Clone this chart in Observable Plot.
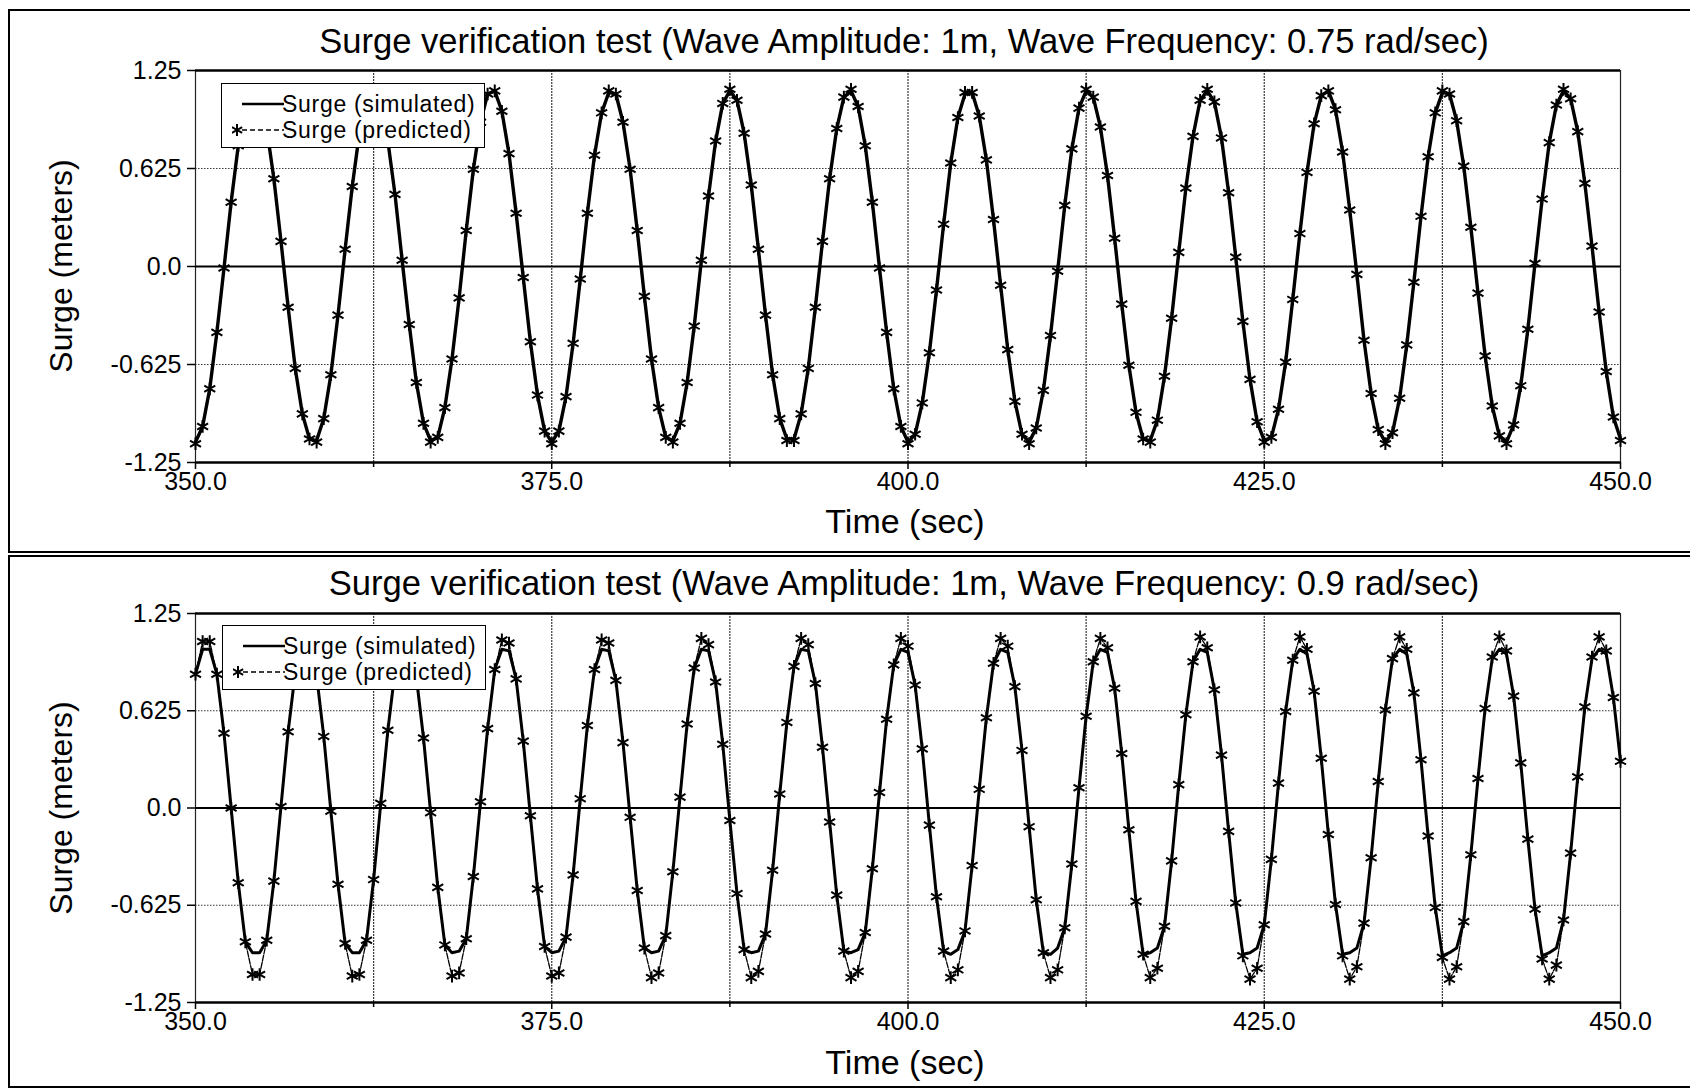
<!DOCTYPE html>
<html>
<head>
<meta charset="utf-8">
<script src="https://cdn.jsdelivr.net/npm/d3@7"></script>
<script src="https://cdn.jsdelivr.net/npm/@observablehq/plot@0.6"></script>
<style>
  html, body { margin: 0; padding: 0; background: #fff; }
  body { width: 1690px; height: 1090px; overflow: hidden; position: relative;
         font-family: Arial, "Liberation Sans", Helvetica, sans-serif; color: #000; }
  .panel { position: absolute; left: 8px; width: 1700px; border: 2px solid #000; box-sizing: border-box; }
  .title { position: absolute; width: 1800px; text-align: center; font-size: 34.6px; line-height: 40px; white-space: nowrap; }
  .xtitle { position: absolute; width: 1800px; text-align: center; font-size: 34px; line-height: 40px; white-space: nowrap; }
  .ytitle { position: absolute; font-size: 32px; line-height: 36px; white-space: nowrap;
            transform: translate(-50%, -50%) rotate(-90deg); }
  .chart { position: absolute; left: 0; }
  .legend { position: absolute; width: 264px; height: 65px; border: 1.5px solid #000; background: #fff;
            box-sizing: border-box; font-size: 23px; }
  .legend .row { position: absolute; left: 0; height: 26px; width: 100%; }
  .legend svg { position: absolute; left: 10px; top: 0; }
  .legend span { position: absolute; left: 60px; top: 0; line-height: 26px; letter-spacing: 0.7px; }
</style>
</head>
<body>
<div class="panel" style="top:9px;height:544px;"></div>
<div class="panel" style="top:555px;height:533px;"></div>
<div id="topChart" class="chart" style="top:40px;"></div>
<div id="bottomChart" class="chart" style="top:583px;"></div>
<script>
// ---- data ----
const times = [
350,350.5,351,351.5,352,352.5,353,353.5,354,354.5,355,355.5,356,356.5,357,357.5,358,358.5,359,359.5,
360,360.5,361,361.5,362,362.5,363,363.5,364,364.5,365,365.5,366,366.5,367,367.5,368,368.5,369,369.5,
370,370.5,371,371.5,372,372.5,373,373.5,374,374.5,375,375.5,376,376.5,377,377.5,378,378.5,379,379.5,
380,380.5,381,381.5,382,382.5,383,383.5,384,384.5,385,385.5,386,386.5,387,387.5,388,388.5,389,389.5,
390,390.5,391,391.5,392,392.5,393,393.5,394,394.5,395,395.5,396,396.5,397,397.5,398,398.5,399,399.5,
400,400.5,401,401.5,402,402.5,403,403.5,404,404.5,405,405.5,406,406.5,407,407.5,408,408.5,409,409.5,
410,410.5,411,411.5,412,412.5,413,413.5,414,414.5,415,415.5,416,416.5,417,417.5,418,418.5,419,419.5,
420,420.5,421,421.5,422,422.5,423,423.5,424,424.5,425,425.5,426,426.5,427,427.5,428,428.5,429,429.5,
430,430.5,431,431.5,432,432.5,433,433.5,434,434.5,435,435.5,436,436.5,437,437.5,438,438.5,439,439.5,
440,440.5,441,441.5,442,442.5,443,443.5,444,444.5,445,445.5,446,446.5,447,447.5,448,448.5,449,449.5,
450];

// Top chart (0.75 rad/sec)
const topPredicted = [
-1.13,-1.02,-0.78,-0.42,-0.01,0.41,0.77,1.02,1.13,1.08,0.88,0.56,0.16,-0.26,-0.65,-0.94,-1.10,
-1.12,-0.97,-0.69,-0.31,0.11,0.51,0.85,1.06,1.13,1.04,0.80,0.46,0.04,-0.37,-0.74,-1.00,-1.12,
-1.09,-0.90,-0.59,-0.20,0.23,0.62,0.92,1.10,1.12,0.99,0.72,0.34,-0.07,-0.48,-0.82,-1.05,-1.13,
-1.05,-0.83,-0.49,-0.08,0.34,0.71,0.98,1.12,1.10,0.92,0.62,0.23,-0.19,-0.59,-0.90,-1.09,
-1.12,-1.00,-0.74,-0.38,0.04,0.45,0.80,1.04,1.13,1.06,0.85,0.52,0.11,-0.31,-0.69,-0.97,-1.11,
-1.11,-0.94,-0.65,-0.26,0.16,0.56,0.88,1.08,1.13,1.02,0.77,0.41,-0.01,-0.42,-0.78,-1.02,-1.13,
-1.07,-0.87,-0.55,-0.15,0.27,0.66,0.95,1.11,1.11,0.96,0.68,0.30,-0.12,-0.53,-0.86,-1.07,
-1.13,-1.03,-0.79,-0.44,-0.03,0.39,0.75,1.01,1.13,1.08,0.89,0.58,0.18,-0.24,-0.63,-0.93,-1.10,
-1.12,-0.98,-0.70,-0.33,0.09,0.50,0.83,1.06,1.13,1.05,0.82,0.47,0.06,-0.35,-0.72,-0.99,-1.12,
-1.09,-0.91,-0.61,-0.21,0.21,0.60,0.91,1.09,1.12,1.00,0.73,0.36,-0.05,-0.47,-0.81,-1.04,-1.13,
-1.06,-0.84,-0.50,-0.10,0.32,0.70,0.98,1.12,1.10,0.93,0.64,0.25,-0.17,-0.57,-0.89,-1.08,
-1.13,-1.01,-0.76,-0.40,0.02,0.43,0.79,1.03,1.13,1.07,0.86,0.53,0.13,-0.29,-0.67,-0.96,-1.11];
const topSimulated = [
-1.12,-1.02,-0.78,-0.42,-0.01,0.41,0.77,1.02,1.12,1.08,0.88,0.56,0.16,-0.26,-0.65,-0.94,-1.10,
-1.11,-0.97,-0.69,-0.31,0.11,0.51,0.85,1.06,1.12,1.04,0.80,0.46,0.04,-0.37,-0.74,-1.00,-1.11,
-1.09,-0.90,-0.59,-0.20,0.23,0.62,0.92,1.10,1.12,0.99,0.72,0.34,-0.07,-0.48,-0.82,-1.05,-1.12,
-1.05,-0.83,-0.49,-0.08,0.34,0.71,0.98,1.11,1.10,0.92,0.62,0.23,-0.19,-0.59,-0.90,-1.09,
-1.11,-1.00,-0.74,-0.38,0.04,0.45,0.80,1.04,1.12,1.06,0.85,0.52,0.11,-0.31,-0.69,-0.97,-1.10,
-1.10,-0.94,-0.65,-0.26,0.16,0.56,0.88,1.08,1.12,1.02,0.77,0.41,-0.01,-0.42,-0.78,-1.02,-1.12,
-1.07,-0.87,-0.55,-0.15,0.27,0.66,0.95,1.10,1.11,0.96,0.68,0.30,-0.12,-0.53,-0.86,-1.07,
-1.12,-1.03,-0.79,-0.44,-0.03,0.39,0.75,1.01,1.12,1.08,0.89,0.58,0.18,-0.24,-0.63,-0.93,-1.10,
-1.11,-0.98,-0.70,-0.33,0.09,0.50,0.83,1.06,1.12,1.05,0.82,0.47,0.06,-0.35,-0.72,-0.99,-1.11,
-1.09,-0.91,-0.61,-0.21,0.21,0.60,0.91,1.09,1.12,1.00,0.73,0.36,-0.05,-0.47,-0.81,-1.04,-1.12,
-1.06,-0.84,-0.50,-0.10,0.32,0.70,0.98,1.11,1.10,0.93,0.64,0.25,-0.17,-0.57,-0.89,-1.08,
-1.12,-1.01,-0.76,-0.40,0.02,0.43,0.79,1.03,1.12,1.07,0.86,0.53,0.13,-0.29,-0.67,-0.96,-1.10];

// Bottom chart (0.9 rad/sec)
const bottomPredicted = [
0.86,1.07,1.07,0.86,0.48,0.00,-0.48,-0.86,-1.07,-1.07,-0.85,-0.47,0.01,0.49,
0.87,1.08,1.07,0.85,0.46,-0.02,-0.49,-0.87,-1.08,-1.07,-0.85,-0.46,0.03,0.50,
0.88,1.08,1.07,0.84,0.45,-0.03,-0.51,-0.88,-1.08,-1.06,-0.84,-0.44,0.04,0.51,
0.89,1.08,1.06,0.83,0.43,-0.05,-0.52,-0.89,-1.08,-1.06,-0.83,-0.43,0.06,0.53,
0.89,1.08,1.06,0.82,0.42,-0.06,-0.53,-0.90,-1.09,-1.06,-0.82,-0.41,0.07,0.54,
0.90,1.09,1.05,0.81,0.41,-0.08,-0.55,-0.91,-1.09,-1.05,-0.81,-0.40,0.09,0.55,
0.91,1.09,1.05,0.80,0.39,-0.09,-0.56,-0.92,-1.09,-1.05,-0.80,-0.39,0.10,0.57,
0.92,1.09,1.04,0.79,0.38,-0.11,-0.57,-0.92,-1.09,-1.04,-0.79,-0.37,0.12,0.58,
0.93,1.09,1.04,0.78,0.37,-0.12,-0.59,-0.93,-1.09,-1.04,-0.77,-0.36,0.13,0.59,
0.94,1.09,1.03,0.77,0.35,-0.14,-0.60,-0.94,-1.09,-1.03,-0.76,-0.34,0.15,0.60,
0.94,1.10,1.03,0.76,0.34,-0.15,-0.61,-0.95,-1.10,-1.03,-0.75,-0.33,0.16,0.62,
0.95,1.10,1.02,0.75,0.32,-0.17,-0.62,-0.95,-1.10,-1.02,-0.74,-0.32,0.17,0.63,
0.96,1.10,1.02,0.74,0.31,-0.18,-0.64,-0.96,-1.10,-1.02,-0.73,-0.30,0.19,0.64,
0.97,1.10,1.01,0.72,0.29,-0.20,-0.65,-0.97,-1.10,-1.01,-0.72,-0.29,0.20,0.65,
0.97,1.10,1.01,0.71,0.30];
const bottomSimulated = [
0.86,1.02,1.02,0.86,0.48,0.00,-0.48,-0.86,-0.93,-0.93,-0.85,-0.47,0.01,0.49,
0.87,1.02,1.02,0.85,0.46,-0.02,-0.49,-0.87,-0.93,-0.93,-0.85,-0.46,0.03,0.50,
0.88,1.02,1.02,0.84,0.45,-0.03,-0.51,-0.88,-0.93,-0.92,-0.84,-0.44,0.04,0.51,
0.89,1.02,1.01,0.83,0.43,-0.05,-0.52,-0.89,-0.93,-0.92,-0.83,-0.43,0.06,0.53,
0.89,1.02,1.01,0.82,0.42,-0.06,-0.53,-0.90,-0.93,-0.92,-0.82,-0.41,0.07,0.54,
0.90,1.02,1.01,0.81,0.41,-0.08,-0.55,-0.91,-0.93,-0.92,-0.81,-0.40,0.09,0.55,
0.91,1.02,1.01,0.80,0.39,-0.09,-0.56,-0.92,-0.93,-0.91,-0.80,-0.39,0.10,0.57,
0.92,1.02,1.00,0.79,0.38,-0.11,-0.57,-0.92,-0.94,-0.91,-0.79,-0.37,0.12,0.58,
0.93,1.02,1.00,0.78,0.37,-0.12,-0.59,-0.93,-0.94,-0.90,-0.77,-0.36,0.13,0.59,
0.94,1.02,1.00,0.77,0.35,-0.14,-0.60,-0.94,-0.93,-0.90,-0.76,-0.34,0.15,0.60,
0.94,1.02,1.00,0.76,0.34,-0.15,-0.61,-0.94,-0.93,-0.90,-0.75,-0.33,0.16,0.62,
0.95,1.02,0.99,0.75,0.32,-0.17,-0.62,-0.94,-0.93,-0.90,-0.74,-0.32,0.17,0.63,
0.96,1.02,0.99,0.74,0.31,-0.18,-0.64,-0.95,-0.93,-0.90,-0.73,-0.30,0.19,0.64,
0.96,1.02,0.99,0.72,0.29,-0.20,-0.65,-0.95,-0.93,-0.90,-0.72,-0.29,0.20,0.65,
0.96,1.02,0.99,0.71,0.30];

const xDomain = [350, 450];
const yDomain = [-1.25, 1.25];
const xMajorTicks = [350, 375, 400, 425, 450];
const xMinorTicks = [362.5, 387.5, 412.5, 437.5];
const xGridTicks = [362.5, 375, 387.5, 400, 412.5, 425, 437.5];
const yTicks = [-1.25, -0.625, 0, 0.625, 1.25];
const yTickLabels = ["-1.25", "-0.625", "0.0", "0.625", "1.25"];
const yGridTicks = [-0.625, 0.625];
const seriesNames = ["Surge (simulated)", "Surge (predicted)"];
const chartTitles = [
  "Surge verification test (Wave Amplitude: 1m, Wave Frequency: 0.75 rad/sec)",
  "Surge verification test (Wave Amplitude: 1m, Wave Frequency: 0.9 rad/sec)"
];
const xTitle = "Time (sec)";
const yTitle = "Surge (meters)";

// ---- drawing ----
const FONT = 'Arial, "Liberation Sans", Helvetica, sans-serif';

function makeChart(sim, pred, cfg) {
  const data = times.map((t, i) => ({t, sim: sim[i], pred: pred[i]}));
  return Plot.plot({
    width: 1690,
    height: 470,
    marginLeft: 195,
    marginRight: 70,
    marginTop: 30,
    marginBottom: cfg.marginBottom,
    x: {domain: xDomain},
    y: {domain: yDomain},
    style: {fontFamily: FONT, fontSize: "25px", color: "#000", background: "transparent", overflow: "visible"},
    marks: [
      Plot.gridX(xGridTicks, {stroke: "#222", strokeOpacity: 0.9, strokeWidth: 1.2, strokeDasharray: "2,1"}),
      Plot.gridY(yGridTicks, {stroke: "#222", strokeOpacity: 0.9, strokeWidth: 1.2, strokeDasharray: "1.5,1.5"}),
      Plot.ruleX([xDomain[0]], {stroke: "#222", strokeWidth: 1.2}),
      Plot.ruleX([xDomain[1]], {stroke: "#222", strokeWidth: 1.2}),
      Plot.ruleY([0], {stroke: "#000", strokeWidth: 2}),
      Plot.ruleY([yDomain[1]], {stroke: "#000", strokeWidth: 2.5}),
      Plot.ruleY([yDomain[0]], {stroke: "#000", strokeWidth: 2.5}),
      Plot.axisX(xMajorTicks, {tickFormat: d => d.toFixed(1), tickSize: 7, tickPadding: 3, fontSize: 25, label: null, strokeWidth: 1.5}),
      Plot.axisX(xMinorTicks, {tickFormat: () => "", tickSize: 5, label: null, strokeWidth: 1.5}),
      Plot.axisY(yTicks, {tickFormat: d => yTickLabels[yTicks.indexOf(d)], tickSize: 8, tickPadding: 6, fontSize: 25, label: null, strokeWidth: 1.5}),
      Plot.line(data, {x: "t", y: "pred", stroke: "#000", strokeWidth: cfg.predWidth, strokeDasharray: cfg.predDash}),
      Plot.line(data, {x: "t", y: "sim", stroke: "#000", strokeWidth: cfg.simWidth}),
      Plot.dot(data, {x: "t", y: "pred", symbol: "asterisk", r: 6, stroke: "#000", strokeWidth: 2})
    ]
  });
}

document.getElementById("topChart").append(
  makeChart(topSimulated, topPredicted, {marginBottom: 48, simWidth: 3.4, predWidth: 1.4, predDash: "5,3"}));
document.getElementById("bottomChart").append(
  makeChart(bottomSimulated, bottomPredicted, {marginBottom: 51, simWidth: 3, predWidth: 1.3, predDash: "6,1.5"}));

// titles, axis titles and legends
function addDiv(cls, text, style) {
  const d = document.createElement("div");
  d.className = cls;
  if (text != null) d.textContent = text;
  Object.assign(d.style, style);
  document.body.append(d);
  return d;
}
const panelLayout = [
  {titleTop: 21, xTitleTop: 501, yTitleCenter: 266, legendLeft: 221, legendTop: 83},
  {titleTop: 563, xTitleTop: 1042, yTitleCenter: 808, legendLeft: 222, legendTop: 625}
];
panelLayout.forEach((p, i) => {
  addDiv("title", chartTitles[i], {left: (904 - 900) + "px", top: p.titleTop + "px"});
  addDiv("xtitle", xTitle, {left: (905 - 900) + "px", top: p.xTitleTop + "px"});
  addDiv("ytitle", yTitle, {left: "61px", top: p.yTitleCenter + "px"});
  const lg = addDiv("legend", null, {left: p.legendLeft + "px", top: p.legendTop + "px"});
  seriesNames.forEach((name, j) => {
    const row = document.createElement("div");
    row.className = "row";
    row.style.top = (7 + j * 26) + "px";
    const ns = "http://www.w3.org/2000/svg";
    const svg = document.createElementNS(ns, "svg");
    svg.setAttribute("width", "52");
    svg.setAttribute("height", "26");
    if (j === 0) {
      svg.innerHTML = '<line x1="10" x2="52" y1="13" y2="13" stroke="#000" stroke-width="2.5"/>';
    } else {
      svg.innerHTML = '<line x1="10" x2="52" y1="13" y2="13" stroke="#000" stroke-width="1.5" stroke-dasharray="5,3"/>' +
        '<path transform="translate(5,13)" d="' + d3.symbol(d3.symbolAsterisk, 100)() + '" stroke="#000" stroke-width="2" fill="none"/>';
    }
    const sp = document.createElement("span");
    sp.textContent = name;
    row.append(svg, sp);
    lg.append(row);
  });
});
</script>
</body>
</html>
